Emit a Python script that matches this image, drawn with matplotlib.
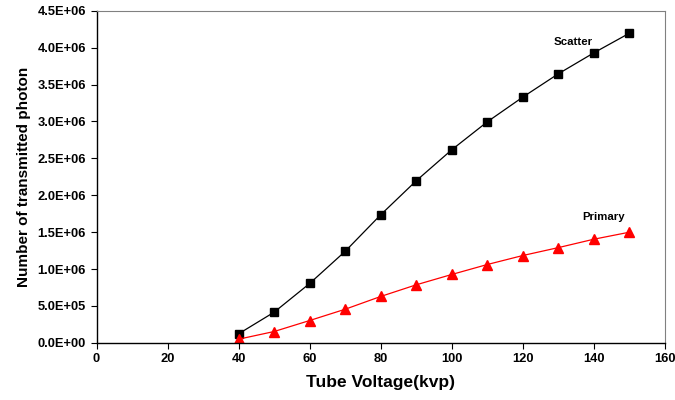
import matplotlib
matplotlib.use('Agg')
import matplotlib.pyplot as plt
from matplotlib.ticker import FuncFormatter, MultipleLocator

# ── Data ────────────────────────────────────────────────────────────────
voltage = [40, 50, 60, 70, 80, 90, 100, 110, 120, 130, 140, 150]
scatter = [1.22e5, 4.15e5, 8.04e5, 1.24e6, 1.735e6, 2.196e6,
           2.616e6, 2.995e6, 3.33e6, 3.646e6, 3.93e6, 4.196e6]
primary = [4.9e4, 1.53e5, 3.02e5, 4.55e5, 6.28e5, 7.86e5,
           9.26e5, 1.061e6, 1.183e6, 1.29e6, 1.404e6, 1.499e6]

plt.rcParams['font.family'] = ['Liberation Sans', 'DejaVu Sans']

fig = plt.figure(figsize=(6.75, 4), dpi=100)
ax = fig.add_axes([0.143, 0.143, 0.842, 0.83])

ax.plot(voltage, scatter, color="black", linewidth=0.9, marker="s",
        markersize=5.5, markerfacecolor="black", markeredgecolor="black")
ax.plot(voltage, primary, color="red", linewidth=0.9, marker="^",
        markersize=6.5, markerfacecolor="red", markeredgecolor="red")

# series labels
ax.text(134.2, 4.08e6, "Scatter", fontsize=8.2, fontweight="bold",
        ha="center", va="center")
ax.text(142.7, 1.71e6, "Primary", fontsize=8.2, fontweight="bold",
        ha="center", va="center")

ax.set_xlim(0, 160)
ax.set_ylim(0, 4.5e6)
ax.xaxis.set_major_locator(MultipleLocator(20))
ax.yaxis.set_major_locator(MultipleLocator(5e5))
ax.yaxis.set_major_formatter(FuncFormatter(lambda v, p: f"{v:.1E}"))

ax.tick_params(direction="out", length=4, width=0.8, labelsize=9.3)
for lab in ax.get_xticklabels() + ax.get_yticklabels():
    lab.set_fontweight("bold")

ax.set_xlabel("Tube Voltage(kvp)", fontsize=12.5, fontweight="bold", labelpad=7)
ax.set_ylabel("Number of transmitted photon", fontsize=11, fontweight="bold",
              labelpad=5)

for s in ["left", "bottom"]:
    ax.spines[s].set_color("black")
    ax.spines[s].set_linewidth(1.0)
for s in ["top", "right"]:
    ax.spines[s].set_color("#808080")
    ax.spines[s].set_linewidth(0.8)

fig.savefig("out.png", dpi=100)
